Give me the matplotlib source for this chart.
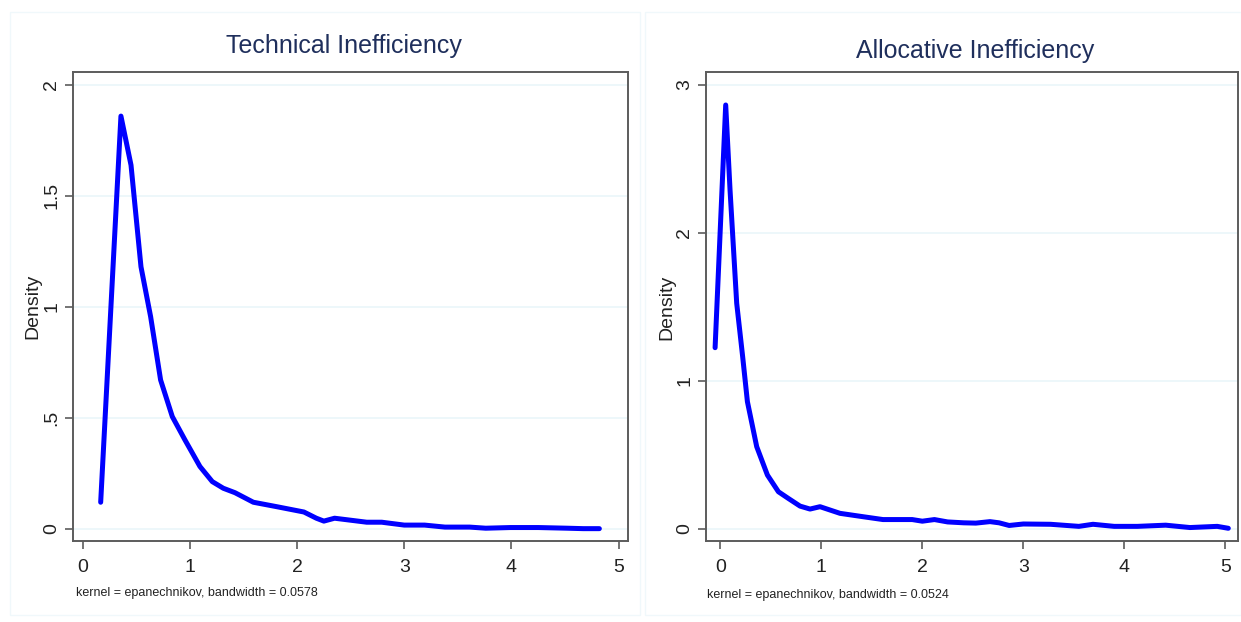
import matplotlib
matplotlib.use("Agg")
import matplotlib.pyplot as plt
from matplotlib.patches import Rectangle

# Technical inefficiency density
tech_x = [0.168, 0.357, 0.451, 0.544, 0.634, 0.727, 0.836, 0.954, 1.094, 1.209,
          1.312, 1.421, 1.592, 1.81, 2.064, 2.18, 2.25, 2.35, 2.50, 2.65, 2.79,
          3.0, 3.19, 3.38, 3.61, 3.76, 3.99, 4.25, 4.52, 4.67, 4.82]
tech_y = [0.119, 1.859, 1.638, 1.18, 0.955, 0.67, 0.505, 0.40, 0.28, 0.212,
          0.182, 0.162, 0.119, 0.099, 0.075, 0.047, 0.034, 0.047, 0.038, 0.029, 0.029,
          0.016, 0.016, 0.007, 0.007, 0.002, 0.005, 0.005, 0.002, 0.0, 0.0]

# Allocative inefficiency density
alloc_x = [-0.052, 0.053, 0.096, 0.162, 0.221, 0.268, 0.36, 0.466, 0.575, 0.673,
           0.789, 0.888, 0.987, 1.185, 1.416, 1.61, 1.90, 2.0, 2.12, 2.25, 2.41,
           2.53, 2.67, 2.76, 2.86, 3.0, 3.27, 3.55, 3.69, 3.9, 4.13, 4.41, 4.65,
           4.92, 5.03]
alloc_y = [1.224, 2.865, 2.29, 1.524, 1.163, 0.859, 0.555, 0.363, 0.25, 0.205,
           0.153, 0.133, 0.149, 0.104, 0.081, 0.062, 0.062, 0.051, 0.062, 0.046, 0.040,
           0.038, 0.048, 0.040, 0.022, 0.032, 0.030, 0.016, 0.030, 0.016, 0.016, 0.024, 0.008,
           0.016, 0.003]

tech_yticks = [0, 0.5, 1, 1.5, 2]
tech_ylabels = ["0", ".5", "1", "1.5", "2"]
alloc_yticks = [0, 1, 2, 3]
alloc_ylabels = ["0", "1", "2", "3"]
xticks = [0, 1, 2, 3, 4, 5]

titles = ["Technical Inefficiency", "Allocative Inefficiency"]
notes = ["kernel = epanechnikov, bandwidth = 0.0578",
         "kernel = epanechnikov, bandwidth = 0.0524"]

plt.rcParams["font.family"] = ["Liberation Sans", "DejaVu Sans"]

W, H = 1241, 622
fig = plt.figure(figsize=(W / 100, H / 100), dpi=100)
fig.patch.set_facecolor("white")

def fx(px):
    return px / W

def fy(py):
    return 1 - py / H

# faint panel borders
for x0, x1 in [(10, 640), (645, 1241)]:
    fig.patches.append(Rectangle((fx(x0), fy(615)), fx(x1 - x0), (615 - 12) / H,
                                 transform=fig.transFigure, fill=False,
                                 edgecolor="#f0f8fb", lw=1))

ax1 = fig.add_axes([fx(72.7), fy(541.3), fx(628.3 - 72.7), (541.3 - 71.7) / H])
ax2 = fig.add_axes([fx(705.5), fy(541.3), fx(1237.7 - 705.5), (541.3 - 71.7) / H])

panels = [
    (ax1, tech_x, tech_y, tech_yticks, tech_ylabels, (-0.093, 5.09), (-0.057, 2.059)),
    (ax2, alloc_x, alloc_y, alloc_yticks, alloc_ylabels, (-0.147, 5.123), (-0.085, 3.09)),
]

for ax, xs, ys, yt, yl, xlim, ylim in panels:
    ax.plot(xs, ys, color="#0000ff", lw=3.6, solid_joinstyle="round",
            solid_capstyle="round", zorder=3)
    ax.set_xlim(*xlim)
    ax.set_ylim(*ylim)
    ax.set_xticks(xticks)
    ax.set_xticklabels([str(t) for t in xticks])
    ax.set_yticks(yt)
    ax.set_yticklabels(yl, rotation=90, va="center")
    for t in yt:
        ax.axhline(t, color="#eaf6fa", lw=1.2, zorder=1)
    for s in ax.spines.values():
        s.set_color("#5c5c5c")
        s.set_linewidth(1.4)
    ax.tick_params(axis="both", direction="out", length=6, width=1.2,
                   color="#5c5c5c", labelsize=14, labelcolor="#222222")
    ax.tick_params(axis="x", pad=7)
    ax.tick_params(axis="y", pad=3)

fig.text(fx(343.5), fy(46.5), titles[0], ha="center", va="center",
         fontsize=18, color="#1f2f5c")
fig.text(fx(975), fy(51), titles[1], ha="center", va="center",
         fontsize=18, color="#1f2f5c")

fig.text(fx(33), fy(306), "Density", rotation=90, ha="center", va="center",
         fontsize=14, color="#222222")
fig.text(fx(667), fy(307), "Density", rotation=90, ha="center", va="center",
         fontsize=14, color="#222222")

fig.text(fx(75.5), fy(593), notes[0], ha="left", va="center", fontsize=9,
         color="#222222")
fig.text(fx(707), fy(595), notes[1], ha="left", va="center", fontsize=9,
         color="#222222")

fig.savefig("out.png", dpi=100, facecolor="white")
